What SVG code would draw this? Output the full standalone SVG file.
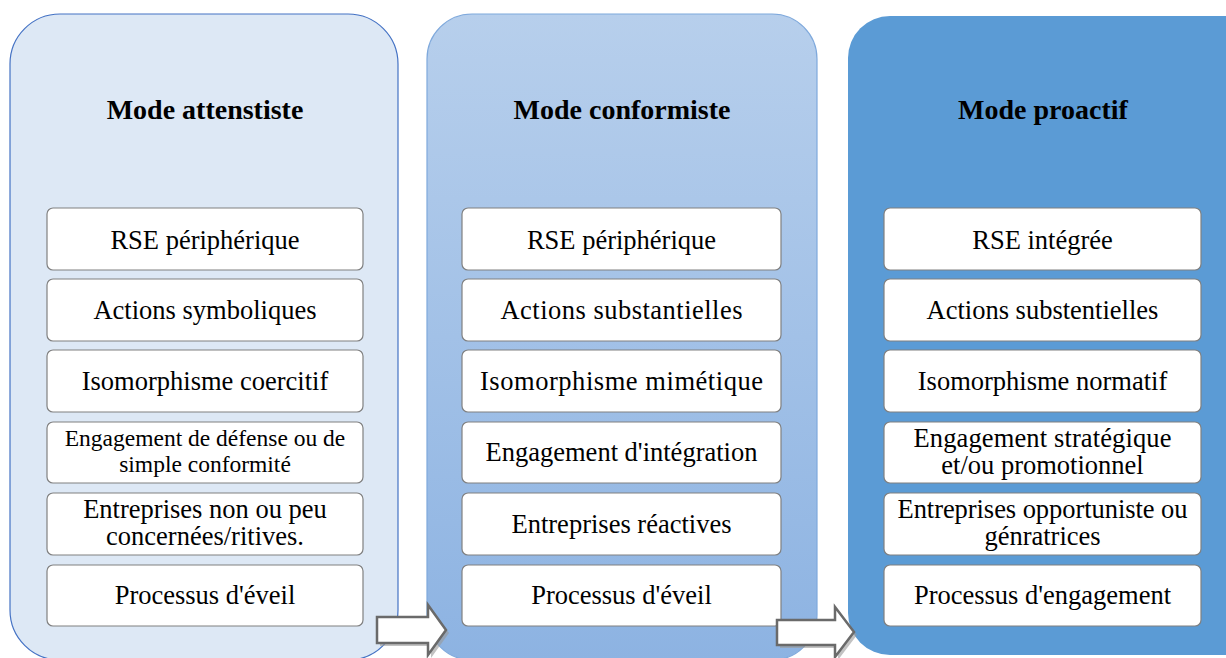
<svg xmlns="http://www.w3.org/2000/svg" width="1226" height="658" viewBox="0 0 1226 658">
<defs>
<linearGradient id="g2" x1="0" y1="0" x2="0" y2="1">
<stop offset="0" stop-color="#b7cfec"/>
<stop offset="1" stop-color="#8db3e2"/>
</linearGradient>
</defs>
<rect width="1226" height="658" fill="#fff"/>

<g id="panel1" font-family="Liberation Serif" font-size="26.5" text-anchor="middle" fill="#000">
<rect x="10" y="14" width="388" height="646" rx="50" ry="50" fill="#dde8f5" stroke="#4472c4" stroke-width="1.2"/>
<text x="205" y="119" font-size="28" font-weight="bold">Mode attenstiste</text>
<g fill="#fff" stroke="#808080" stroke-width="1.2">
<rect x="47" y="208" width="316" height="62" rx="6"/>
<rect x="47" y="279" width="316" height="62" rx="6"/>
<rect x="47" y="350" width="316" height="62" rx="6"/>
<rect x="47" y="422" width="316" height="61" rx="6"/>
<rect x="47" y="493" width="316" height="62" rx="6"/>
<rect x="47" y="565" width="316" height="61" rx="6"/>
</g>
<text x="205" y="249">RSE périphérique</text>
<text x="205" y="319">Actions symboliques</text>
<text x="205" y="390">Isomorphisme coercitif</text>
<text x="205" y="446" font-size="23.5">Engagement de défense ou de</text>
<text x="205" y="472" font-size="23.5">simple conformité</text>
<text x="205" y="518">Entreprises non ou peu</text>
<text x="205" y="545">concernées/ritives.</text>
<text x="205" y="604">Processus d'éveil</text>
</g>

<g id="panel2" font-family="Liberation Serif" font-size="26.5" text-anchor="middle" fill="#000">
<rect x="427" y="14" width="390" height="646" rx="45" ry="45" fill="url(#g2)" stroke="#7fa9dc" stroke-width="1.2"/>
<text x="622" y="119" font-size="28" font-weight="bold">Mode conformiste</text>
<g fill="#fff" stroke="#808080" stroke-width="1.2">
<rect x="462" y="208" width="319" height="62" rx="6"/>
<rect x="462" y="279" width="319" height="62" rx="6"/>
<rect x="462" y="350" width="319" height="62" rx="6"/>
<rect x="462" y="422" width="319" height="61" rx="6"/>
<rect x="462" y="493" width="319" height="62" rx="6"/>
<rect x="462" y="565" width="319" height="61" rx="6"/>
</g>
<text x="621.5" y="249">RSE périphérique</text>
<text x="621.5" y="319" textLength="242" lengthAdjust="spacing">Actions substantielles</text>
<text x="621.5" y="390" textLength="283" lengthAdjust="spacing">Isomorphisme mimétique</text>
<text x="621.5" y="461">Engagement d'intégration</text>
<text x="621.5" y="533">Entreprises réactives</text>
<text x="621.5" y="604">Processus d'éveil</text>
</g>

<g id="panel3" font-family="Liberation Serif" font-size="26.5" text-anchor="middle" fill="#000">
<rect x="848" y="16" width="420" height="639" rx="42" ry="42" fill="#5b9bd5"/>
<text x="1043" y="119" font-size="28" font-weight="bold">Mode proactif</text>
<g fill="#fff" stroke="#808080" stroke-width="1.2">
<rect x="884" y="208" width="317" height="62" rx="6"/>
<rect x="884" y="279" width="317" height="62" rx="6"/>
<rect x="884" y="350" width="317" height="62" rx="6"/>
<rect x="884" y="422" width="317" height="61" rx="6"/>
<rect x="884" y="493" width="317" height="62" rx="6"/>
<rect x="884" y="565" width="317" height="61" rx="6"/>
</g>
<text x="1042.5" y="249">RSE intégrée</text>
<text x="1042.5" y="319">Actions substentielles</text>
<text x="1042.5" y="390">Isomorphisme normatif</text>
<text x="1042.5" y="447" textLength="258" lengthAdjust="spacing">Engagement stratégique</text>
<text x="1042.5" y="474">et/ou promotionnel</text>
<text x="1042.5" y="518" textLength="290" lengthAdjust="spacing">Entreprises opportuniste ou</text>
<text x="1042.5" y="545">génratrices</text>
<text x="1042.5" y="604">Processus d'engagement</text>
</g>

<g id="connectors">
<g fill="#9a9a9a" opacity="0.6">
<polygon points="380,620 431,620 431,608 449,633 431,658 431,646 380,646"/>
<polygon points="780,623 838,623 838,610 857,635 838,660 838,648 780,648"/>
</g>
<g fill="#fff" stroke="#6a6a6a" stroke-width="2.5">
<polygon points="377,617 428,617 428,605 446,630 428,655 428,643 377,643"/>
<polygon points="777,620 835,620 835,607 854,632 835,657 835,645 777,645"/>
</g>
</g>
</svg>
